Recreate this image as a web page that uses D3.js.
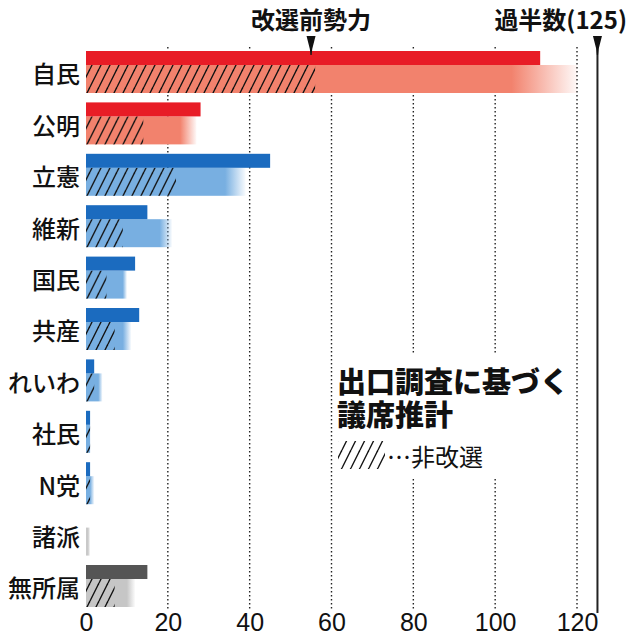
<!DOCTYPE html>
<html><head><meta charset="utf-8">
<script src="https://cdn.jsdelivr.net/npm/d3@7"></script>
<style>
html,body{margin:0;padding:0;background:#fff;}
svg{display:block;}
</style></head>
<body>
<script>
// ---- data ----
const categories = ["自民","公明","立憲","維新","国民","共産","れいわ","社民","N党","諸派","無所属"];
const blocs      = ["ruling","ruling","opp","opp","opp","opp","opp","opp","opp","other","indep"];
const preElection = [111, 28, 45, 15, 12, 13, 2, 1, 1, 0, 15];   // 改選前勢力
const nonUp       = [56, 14, 22, 9, 5, 7, 2, 1, 1, 0, 7];        // 非改選
const estLow      = [104, 23, 34, 18, 9, 9, 3, 1, 1, 0.5, 10];   // 推計(下限)
const estHigh     = [120, 27, 39, 21, 10, 11, 4, 1, 2, 1, 12];   // 推計(上限)
const tickValues  = [0, 20, 40, 60, 80, 100, 120];
const gridValues  = [20, 40, 60, 80, 100, 120];
const majority = 125;
const preMarkerValue = 55;
const majorityLabel = "過半数(125)";
const preLabel = "改選前勢力";
const titleLines = ["出口調査に基づく", "議席推計"];
const legendLabel = "…非改選";

const W = 635, H = 640;
const topColor = {ruling:"#e81c26", opp:"#1b6bbf", other:"#d0d0d0", indep:"#555555"};
const lowColor = {ruling:"#f2826d", opp:"#78afe1", other:"#c9c9c9", indep:"#c6c6c6"};

const svg = d3.select("body").append("svg").attr("width", W).attr("height", H);
const defs = svg.append("defs");

const x = d3.scaleLinear().domain([0, 120]).range([86, 577]);
const y = d3.scaleBand().domain(categories).range([51, 607]).paddingInner(0.183).paddingOuter(0).align(0);
const bw = y.bandwidth();
const topH = bw / 3;

// hatch pattern: tile 9 x 18, diagonal "/" lines continuous across tiles
function hatch(id, stroke){
  const p = defs.append("pattern").attr("id", id).attr("patternUnits","userSpaceOnUse")
    .attr("x", 0).attr("y", 0).attr("width", 9).attr("height", 18);
  [-9, 0, 9].forEach(o => {
    p.append("line").attr("x1", o).attr("y1", 18).attr("x2", o + 9).attr("y2", 0)
      .attr("stroke", stroke).attr("stroke-width", 1.4);
  });
}
hatch("hatch", "#111");

// grid lines
svg.append("g").selectAll("line").data(gridValues).join("line")
  .attr("x1", d => x(d)).attr("x2", d => x(d))
  .attr("y1", 47).attr("y2", 609)
  .attr("stroke", "#222").attr("stroke-width", 1.4).attr("stroke-dasharray", "1.4,2.6");

// data rows
const rows = categories.map((c,i)=>({c, bloc:blocs[i], pre:preElection[i], non:nonUp[i], lo:estLow[i], hi:estHigh[i], i}));

// gradients for estimate bars
rows.forEach(r => {
  const g = defs.append("linearGradient").attr("id","grad"+r.i)
    .attr("gradientUnits","userSpaceOnUse")
    .attr("x1", x(r.lo)).attr("x2", x(r.hi)).attr("y1",0).attr("y2",0);
  g.append("stop").attr("offset",0).attr("stop-color", lowColor[r.bloc]).attr("stop-opacity",1);
  g.append("stop").attr("offset",1).attr("stop-color", lowColor[r.bloc]).attr("stop-opacity", r.hi > r.lo ? 0.05 : 1);
});

const gRows = svg.append("g").selectAll("g").data(rows).join("g")
  .attr("transform", d => `translate(0,${y(d.c)})`);

// estimate bar (lower)
gRows.append("rect")
  .attr("x", x(0)).attr("y", topH)
  .attr("width", d => Math.max(0, x(d.hi) - x(0)))
  .attr("height", bw - topH)
  .attr("fill", d => `url(#grad${d.i})`);
// non-up hatched
gRows.append("rect")
  .attr("x", x(0)).attr("y", topH)
  .attr("width", d => Math.max(0, x(d.non) - x(0)))
  .attr("height", bw - topH)
  .attr("fill", "url(#hatch)");
// pre-election bar (upper)
gRows.append("rect")
  .attr("x", x(0)).attr("y", 0)
  .attr("width", d => Math.max(0, x(d.pre) - x(0)))
  .attr("height", topH)
  .attr("fill", d => topColor[d.bloc]);

// category labels
gRows.append("text")
  .attr("x", 80).attr("y", bw/2 + 1)
  .attr("text-anchor","end").attr("dominant-baseline","central")
  .attr("font-family","'Noto Sans CJK JP', sans-serif").attr("font-weight",500)
  .attr("font-size", 24).attr("fill","#111")
  .text(d => d.c);

// x axis labels
const axis = d3.axisBottom(x).tickValues(tickValues).tickSize(0).tickPadding(0).tickFormat(d3.format("d"));
const ax = svg.append("g").attr("transform","translate(0,613)").call(axis);
ax.select(".domain").remove();
ax.selectAll("text")
  .attr("font-family","'Liberation Sans Narrow','Arial Narrow',sans-serif")
  .attr("font-size", 25).attr("fill","#111").attr("dy","0.71em").attr("y", 0);

// majority line + marker
const xm = x(majority);
svg.append("line").attr("x1", xm).attr("x2", xm).attr("y1", 46).attr("y2", 613)
  .attr("stroke","#222").attr("stroke-width",2);
function marker(px){
  svg.append("path")
    .attr("d", `M${px-4.5},36 L${px+4.5},36 L${px+1.2},49 L${px+0.6},55 L${px-0.6},55 L${px-1.2},49 Z`)
    .attr("fill","#111");
}
marker(xm);
marker(x(preMarkerValue));

svg.append("text").attr("x", x(preMarkerValue)).attr("y", 29).attr("text-anchor","middle")
  .attr("font-family","'Noto Sans CJK JP', sans-serif").attr("font-weight",700)
  .attr("font-size", 24).attr("fill","#111").text(preLabel);
svg.append("text").attr("x", 627).attr("y", 29).attr("text-anchor","end")
  .attr("font-family","'Noto Sans CJK JP', sans-serif").attr("font-weight",700)
  .attr("font-size", 24).attr("fill","#111").text(majorityLabel);

// annotation box
svg.append("rect").attr("x", 334).attr("y", 355).attr("width", 240).attr("height", 122).attr("fill","#fff");
const tt = svg.append("text")
  .attr("font-family","'Noto Sans CJK JP', sans-serif").attr("font-weight",900)
  .attr("font-size", 29).attr("fill","#111");
titleLines.forEach((t,i)=>{
  tt.append("tspan").attr("x", 337).attr("y", 393 + i*33).text(t);
});
svg.append("rect").attr("x", 338).attr("y", 441).attr("width", 47).attr("height", 28).attr("fill","url(#hatch)");
svg.append("text").attr("x", 387).attr("y", 466)
  .attr("font-family","'Noto Sans CJK JP', sans-serif").attr("font-weight",400)
  .attr("font-size", 24).attr("fill","#111").text(legendLabel);
</script>
</body></html>
